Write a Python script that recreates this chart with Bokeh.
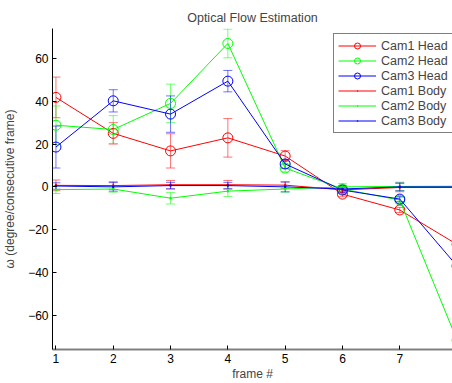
from bokeh.plotting import figure
from bokeh.models import (ColumnDataSource, Whisker, TeeHead, FixedTicker, Range1d,
                          Legend, LegendItem)
from bokeh.embed import file_html
from bokeh.resources import INLINE

frames = [1, 2, 3, 4, 5, 6, 7, 8]

cam1_head = [41.8, 25.0, 16.8, 22.9, 14.4, -3.4, -10.8, -26.9]
cam1_head_err = [9.5, 5.0, 8.0, 9.0, 2.5, 1.2, 1.2, 1.5]
cam2_head = [28.8, 26.8, 39.0, 67.0, 8.8, -1.0, -6.2, -71.7]
cam2_head_err = [9.0, 6.5, 9.0, 6.7, 1.8, 1.2, 1.2, 1.5]
cam3_head = [18.6, 40.2, 34.0, 49.4, 10.7, -1.5, -5.7, -37.0]
cam3_head_err = [9.8, 5.2, 8.5, 5.0, 2.0, 1.2, 1.2, 1.5]

cam1_body = [0.7, 0.6, 1.0, 1.0, 0.8, -1.4, -0.3, -0.3]
cam1_body_err = [2.5, 1.8, 2.0, 2.0, 1.5, 1.5, 2.0, 1.5]
cam2_body = [-1.3, -1.0, -5.3, -2.0, -1.0, 0.0, 0.2, 0.3]
cam2_body_err = [1.8, 1.5, 2.7, 2.5, 1.5, 1.5, 2.0, 1.5]
cam3_body = [0.4, 0.0, 0.6, 0.6, 0.0, -1.0, 0.0, 0.0]
cam3_body_err = [1.5, 2.0, 1.5, 1.5, 2.3, 1.5, 1.8, 1.5]

x_ticks = [1, 2, 3, 4, 5, 6, 7]
y_ticks = [-60, -40, -20, 0, 20, 40, 60]

series = [
    ("Cam1 Head", cam1_head, cam1_head_err, "#ff0000", "head"),
    ("Cam2 Head", cam2_head, cam2_head_err, "#00ff00", "head"),
    ("Cam3 Head", cam3_head, cam3_head_err, "#0000ff", "head"),
    ("Cam1 Body", cam1_body, cam1_body_err, "#ff0000", "body"),
    ("Cam2 Body", cam2_body, cam2_body_err, "#00ff00", "body"),
    ("Cam3 Body", cam3_body, cam3_body_err, "#0000ff", "body"),
]

FONT = "Liberation Sans"

p = figure(width=452, height=383, output_backend="svg", toolbar_location=None,
           x_range=Range1d(0.94, 7.92), y_range=Range1d(-76, 74),
           min_border_left=51, min_border_right=0, min_border_top=28,
           min_border_bottom=32, title="Optical Flow Estimation")
p.outline_line_color = None
p.xgrid.grid_line_color = None
p.ygrid.grid_line_color = None
p.background_fill_color = "white"
p.border_fill_color = "white"

p.title.align = "center"
p.title.text_font = FONT
p.title.text_font_size = "12.5px"
p.title.text_font_style = "normal"
p.title.standoff = 8

items = []
for name, vals, errs, color, kind in series:
    lower = [v - e for v, e in zip(vals, errs)]
    upper = [v + e for v, e in zip(vals, errs)]
    src = ColumnDataSource(dict(x=frames, y=vals, lower=lower, upper=upper))
    w = Whisker(source=src, base="x", lower="lower", upper="upper",
                line_color=color, line_alpha=0.55, line_width=1,
                lower_head=TeeHead(size=9, line_color=color, line_alpha=0.55),
                upper_head=TeeHead(size=9, line_color=color, line_alpha=0.55))
    p.add_layout(w)
    ln = p.line("x", "y", source=src, line_color=color, line_width=1)
    if kind == "head":
        mk = p.scatter("x", "y", source=src, marker="circle", size=10,
                       line_color=color, fill_color=None, line_width=1)
    else:
        mk = p.scatter("x", "y", source=src, marker="dot", size=10,
                       line_color=color, fill_color=color)
    items.append(LegendItem(label=name, renderers=[ln, mk]))

legend = Legend(items=items, location=(281, 216), border_line_color="black",
                border_line_width=1, background_fill_color="white",
                background_fill_alpha=1.0, padding=4, spacing=0,
                label_height=15, glyph_height=15, glyph_width=38,
                label_standoff=5, margin=0,
                label_text_font=FONT, label_text_font_size="12.5px")
p.add_layout(legend)

for ax in (p.xaxis[0], p.yaxis[0]):
    ax.major_tick_in = 4
    ax.major_tick_out = 0
    ax.minor_tick_line_color = None
    ax.major_label_text_font = FONT
    ax.major_label_text_font_size = "12px"
    ax.major_label_text_color = "black"
    ax.axis_label_text_font = FONT
    ax.axis_label_text_font_size = "12px"
    ax.axis_label_text_font_style = "normal"
    ax.major_tick_line_color = "black"

p.xaxis.ticker = FixedTicker(ticks=x_ticks)
p.yaxis.ticker = FixedTicker(ticks=y_ticks)
p.yaxis.major_label_overrides = {t: (str(t).replace("-", "\u2212")) for t in y_ticks}
p.xaxis.axis_label = "frame #"
p.yaxis.axis_label = "\u03c9 (degree/consecutive frame)"
p.xaxis.axis_line_color = "#808080"
p.xaxis.axis_line_width = 2
p.yaxis.axis_line_color = "black"
p.xaxis.major_label_standoff = 4
p.xaxis.axis_label_standoff = 1
p.yaxis.major_label_standoff = 4
p.yaxis.axis_label_standoff = 8

open("out.html", "w").write(file_html(p, INLINE))
